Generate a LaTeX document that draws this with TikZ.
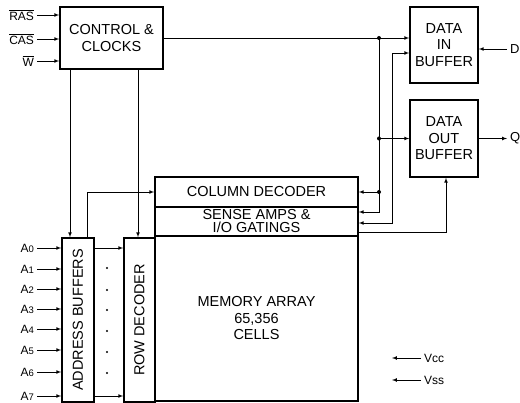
\documentclass[tikz,border=0pt]{standalone}
\usepackage{fontspec}
\setmainfont{Liberation Sans}
\begin{document}
\begin{tikzpicture}[x=1pt,y=-1pt,
    blk/.style={draw,line width=1.6pt,align=center,inner sep=0pt,font=\fontsize{14.5}{16.5}\selectfont},
    pin/.style={font=\fontsize{12}{13}\selectfont,inner sep=1pt,outer sep=2pt},
    wire/.style={line width=.7pt}]
    \useasboundingbox (0,0) rectangle (520,403);
    % blocks
    \node[blk,minimum width=103pt,minimum height=62pt] (ctrl) at (111.5,38) {CONTROL \&\\CLOCKS};
    \node[blk,minimum width=68pt,minimum height=76pt] (din) at (444,45) {DATA\\IN\\BUFFER};
    \node[blk,minimum width=68pt,minimum height=77pt] (dout) at (444,138.5) {DATA\\OUT\\BUFFER};
    \node[blk,minimum width=203pt,minimum height=30pt] (coldec) at (256.5,192) {COLUMN DECODER};
    \node[blk,minimum width=203pt,minimum height=29pt,font=\fontsize{14.5}{13}\selectfont] (sense) at (256.5,221.5) {SENSE AMPS \&\\I/O GATINGS};
    \node[blk,minimum width=203pt,minimum height=165pt] (mem) at (256.5,318.5) {MEMORY ARRAY\\65,356\\CELLS};
    \node[blk,minimum width=32pt,minimum height=164pt] (addr) at (78,320) {\rotatebox{90}{ADDRESS BUFFERS}};
    \node[blk,minimum width=31pt,minimum height=164pt] (rowdec) at (139.5,320) {\rotatebox{90}{ROW DECODER}};
    % control inputs
    \node[pin,anchor=east] (ras) at (37,15) {$\overline{\mbox{RAS}}$};
    \node[pin,anchor=east] (cas) at (37,39) {$\overline{\mbox{CAS}}$};
    \node[pin,anchor=east] (we) at (37,61) {$\overline{\mbox{W}}$};
    \foreach \p in {ras,cas,we}
        \draw[wire,-latex] (\p.east) -- (\p.east -| ctrl.west);
    % address inputs
    \foreach \i/\y in {0/248,1/269,2/289,3/309,4/329,5/350,6/372,7/396} {
        \node[pin,anchor=east] (a\i) at (37,\y) {A{\fontsize{9.5}{10}\selectfont\i}};
        \draw[wire,-latex] (a\i.east) -- (a\i.east -| addr.west);
    }
    \draw[wire,-latex] (a0 -| addr.east) -- (a0 -| rowdec.west);
    \draw[wire,-latex] (a7 -| addr.east) -- (a7 -| rowdec.west);
    \foreach \y in {268,290,310,331,352,373}
        \fill (107,\y) circle (1.1pt);
    % control lines down
    \coordinate (ca) at (70,0);
    \coordinate (cr) at (138,0);
    \coordinate (cc) at (87,0);
    \draw[wire,-latex] (ca |- ctrl.south) -- (ca |- addr.north);
    \draw[wire,-latex] (cr |- ctrl.south) -- (cr |- rowdec.north);
    \draw[wire,-latex] (cc |- addr.north) |- (coldec.west);
    % clock bus on the right
    \coordinate (jx) at (379,0);
    \coordinate (sin) at (379,212);
    \draw[wire,-latex] (ctrl.east) -- (ctrl.east -| din.west);
    \draw[wire,-latex] (jx |- ctrl.east) -- (sin) -- (sin -| sense.east);
    \draw[wire,-latex] (jx |- dout) -- (dout.west);
    \draw[wire,-latex] (jx |- coldec) -- (coldec.east);
    \foreach \n in {ctrl,dout,coldec}
        \fill (jx |- \n.east) circle (2pt);
    % data paths
    \coordinate (dtop) at (392,53);
    \coordinate (dio) at (392,223);
    \draw[wire,latex-latex] (dtop -| din.west) -- (dtop) -- (dio) -- (dio -| sense.east);
    \coordinate (sout) at (446,232);
    \draw[wire,-latex] (sout -| sense.east) -- (sout) -- (sout |- dout.south);
    % data pins
    \node[pin,anchor=west,font=\fontsize{13}{14}\selectfont] (dpin) at (507,49) {D};
    \node[pin,anchor=west,font=\fontsize{13}{14}\selectfont] (qpin) at (507,138.5) {Q};
    \draw[wire,-latex] (dpin.west) -- (dpin.west -| din.east);
    \draw[wire,-latex] (dout.east) -- (qpin.west);
    % supply
    \node[pin,anchor=west] (vcc) at (421,358) {Vcc};
    \node[pin,anchor=west] (vss) at (421,380) {Vss};
    \coordinate (vccend) at (392,358);
    \coordinate (vssend) at (392,380);
    \draw[wire,-latex] (vcc.west) -- (vccend);
    \draw[wire,-latex] (vss.west) -- (vssend);
\end{tikzpicture}
\end{document}
